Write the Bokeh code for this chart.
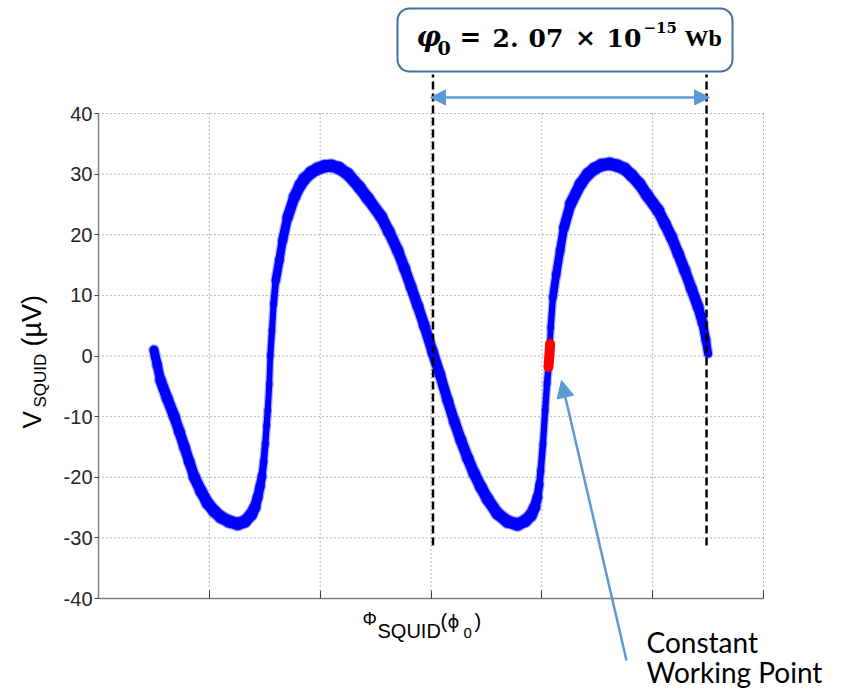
import math
from bokeh.plotting import figure
from bokeh.models import (Label, Arrow, NormalHead, BoxAnnotation, FixedTicker,
                          CustomJSTickFormatter, ColumnDataSource)
from bokeh.embed import file_html
from bokeh.resources import INLINE

# ---------------- data ----------------
phi_flux = [0.50, 0.53, 0.56, 0.62, 0.684, 0.73, 0.775, 0.82, 0.865, 0.925, 0.985,
            1.045, 1.105, 1.18, 1.256, 1.32, 1.376, 1.41, 1.436, 1.458, 1.475, 1.49,
            1.505, 1.517, 1.527, 1.541, 1.55, 1.565, 1.58, 1.60, 1.632, 1.662, 1.707,
            1.767, 1.82, 1.857, 1.92, 1.978, 2.04, 2.10, 2.17, 2.25, 2.355, 2.43, 2.55,
            2.62, 2.70, 2.76, 2.82, 2.88, 2.94, 3.016, 3.08, 3.15, 3.21, 3.27, 3.33,
            3.39, 3.45, 3.51, 3.60, 3.69, 3.78, 3.85, 3.90, 3.935, 3.96, 3.978, 3.99,
            4.01, 4.03, 4.047, 4.068, 4.08, 4.10, 4.13, 4.165, 4.20, 4.26, 4.35, 4.415,
            4.475, 4.54, 4.61, 4.68, 4.745, 4.81, 4.88, 4.95, 5.05, 5.11, 5.17, 5.23,
            5.29, 5.35, 5.41, 5.45, 5.48, 5.50]
v_squid = [1.0, -1.5, -4.0, -7.0, -10.0, -12.5, -15.0, -17.5, -20.0, -22.3, -24.3,
           -25.6, -26.6, -27.3, -27.7, -27.3, -26.2, -25.0, -23.3, -21.5, -19.8, -17.5,
           -14.5, -11.5, -9.0, -4.6, 0.0, 4.2, 8.6, 12.5, 15.8, 19.1, 22.9,
           26.2, 28.2, 29.2, 30.3, 30.9, 31.3, 31.4, 31.0, 30.0, 27.8, 26.0, 23.0,
           20.5, 17.4, 14.5, 11.4, 8.3, 5.0, 0.6, -3.0, -7.3, -10.8, -13.9, -16.8,
           -19.4, -21.6, -23.6, -26.0, -27.3, -27.8, -27.2, -26.3, -25.0, -23.3, -21.2, -18.9,
           -14.5, -9.0, -4.6, 0.0, 4.7, 9.7, 13.5, 17.4, 21.2, 25.1, 28.4, 30.0,
           30.9, 31.5, 31.7, 31.4, 30.9, 29.8, 28.4, 26.5, 24.0, 21.8, 19.6, 16.9,
           14.1, 11.1, 8.1, 5.5, 2.6, 0.4]

# working point (red)
wp_phi = [4.060, 4.068, 4.075]
wp_v = [-1.8, 0.0, 2.0]

# flux quantum markers (x positions of dashed lines)
quantum_marks = [3.018, 5.486]

x_ticks = [0, 1, 2, 3, 4, 5, 6]
y_ticks = [-40, -30, -20, -10, 0, 10, 20, 30, 40]

# ---------------- geometry ----------------
W, H = 842, 694
PL, PR, PT, PB = 98, 763, 113, 598          # pixel box of the axes
XMIN, XMAX, YMIN, YMAX = 0, 6, -40, 40
pxx = (PR - PL) / (XMAX - XMIN)
pxy = (PB - PT) / (YMAX - YMIN)


def X(px):
    return XMIN + (px - PL) / pxx


def Y(py):
    return YMIN + (PB - py) / pxy


p = figure(width=W, height=H, x_range=(X(0), X(W)), y_range=(Y(H), Y(0)),
           output_backend="svg", toolbar_location=None, min_border=0)
p.outline_line_color = None
p.background_fill_color = "white"
p.border_fill_color = "white"

xa, ya = p.xaxis[0], p.yaxis[0]
xa.fixed_location = YMIN
ya.fixed_location = XMIN
xa.bounds = (XMIN, XMAX)
ya.bounds = (YMIN, YMAX)
for ax in (xa, ya):
    ax.axis_line_color = "#808080"
    ax.axis_line_width = 1.5
    ax.major_tick_line_color = "#404040"
    ax.major_tick_line_width = 1
    ax.minor_tick_line_color = None

xa.ticker = FixedTicker(ticks=x_ticks)
xa.formatter = CustomJSTickFormatter(code="return ''")
xa.major_tick_in = 8
xa.major_tick_out = 0

ya.ticker = FixedTicker(ticks=y_ticks)
ya.formatter = CustomJSTickFormatter(code="return tick.toString()")
ya.major_tick_in = 0
ya.major_tick_out = 4
ya.major_label_standoff = 2
ya.major_label_text_font = "Liberation Sans"
ya.major_label_text_font_size = "20px"
ya.major_label_text_color = "#262626"

# grid (dotted)
p.xgrid.visible = False
p.ygrid.visible = False
gx0 = [t for t in x_ticks if t > XMIN]
gy0 = [t for t in y_ticks if t > YMIN]
p.segment(x0=gx0, y0=[YMIN] * len(gx0), x1=gx0, y1=[YMAX] * len(gx0),
          line_color="#707070", line_dash="1 3", line_width=1)
p.segment(x0=[XMIN] * len(gy0), y0=gy0, x1=[XMAX] * len(gy0), y1=gy0,
          line_color="#707070", line_dash="1 3", line_width=1)

# ---------------- curve ----------------
x0, y0, x1, y1, wid, halo = [], [], [], [], [], []
for i in range(len(phi_flux) - 1):
    dxp = (phi_flux[i + 1] - phi_flux[i]) * pxx
    dyp = (v_squid[i + 1] - v_squid[i]) * pxy
    s = abs(dyp / dxp) if dxp else 99.0
    w = 5.5 + 6.5 / (1 + (s / 5) ** 2)
    x0.append(phi_flux[i]); y0.append(v_squid[i])
    x1.append(phi_flux[i + 1]); y1.append(v_squid[i + 1])
    wid.append(w)
    halo.append(w + 2.5)

src = ColumnDataSource(dict(x0=x0, y0=y0, x1=x1, y1=y1, w=wid, h=halo))
p.segment("x0", "y0", "x1", "y1", source=src, line_color="#3a3aff",
          line_alpha=0.4, line_width="h", line_cap="round")
p.segment("x0", "y0", "x1", "y1", source=src, line_color="#0000ff",
          line_width="w", line_cap="round")

p.line(wp_phi, wp_v, line_color="#ff0000", line_width=10, line_cap="round")

# ---------------- annotations ----------------
BLUE = "#5B9BD5"

for xq in quantum_marks:
    p.add_layout(Arrow(x_start=xq, y_start=Y(545), x_end=xq, y_end=Y(74),
                       start=None, end=None, line_color="black", line_width=2.5,
                       line_dash="8 4"))

p.add_layout(Arrow(x_start=X(430), y_start=Y(97), x_end=X(709), y_end=Y(97),
                   line_color=BLUE, line_width=2.5,
                   start=NormalHead(size=15, fill_color=BLUE, line_color=BLUE),
                   end=NormalHead(size=15, fill_color=BLUE, line_color=BLUE)))

p.add_layout(Arrow(x_start=X(626), y_start=Y(660), x_end=X(561), y_end=Y(380),
                   line_color=BLUE, line_width=2.5,
                   end=NormalHead(size=17, fill_color=BLUE, line_color=BLUE)))

p.add_layout(BoxAnnotation(left=X(397), right=X(732), top=Y(8), bottom=Y(71),
                           fill_color="white", fill_alpha=1.0, line_color="#41719C",
                           line_alpha=1.0, line_width=2, border_radius=12))

SHIFT = 0.44  # empirical correction of the rendered alphabetic baseline


def lab(text, px, py, size, font="Liberation Sans", style="normal", align="left",
        rotated=False, color="black"):
    if rotated:
        x, y, ang = X(px - SHIFT * size), Y(py), math.pi / 2
    else:
        x, y, ang = X(px), Y(py - SHIFT * size), 0.0
    p.add_layout(Label(x=x, y=y, text=text, text_font=font,
                       text_font_size=f"{size}px", text_font_style=style,
                       text_align=align, text_baseline="alphabetic",
                       angle=ang, text_color=color))


# formula in the box
SERIF = "DejaVu Serif"
lab("φ", 416, 48, 27, SERIF, "bold italic")
lab("0", 437, 56, 19, SERIF, "bold")
lab("=", 470, 48, 26, SERIF, "bold", "center")
lab("2.", 492, 48, 25, SERIF, "bold")
lab("07", 528, 48, 25, SERIF, "bold")
lab("×", 585, 48, 25, SERIF, "bold", "center")
lab("10", 606, 48, 25, SERIF, "bold")
lab("−15", 643, 34, 15, SERIF, "bold")
lab("Wb", 684, 48, 24, "Liberation Serif", "bold")

# x axis label
lab("Φ", 362, 626, 18)
lab("SQUID", 377, 639, 20)
lab("(", 440, 629, 20)
lab("ϕ", 447, 629, 18, "DejaVu Sans")
lab("0", 463, 639, 15)
lab(")", 474, 629, 20)

# y axis label (rotated)
lab("V", 43, 428, 26, rotated=True)
lab("SQUID", 47, 407, 17, rotated=True)
lab("(µV)", 43, 346, 27, rotated=True)

# callout text
lab("Constant", 646, 654, 28, "Lato")
lab("Working Point", 646, 684, 28, "Lato")

open("out.html", "w").write(file_html(p, INLINE))
